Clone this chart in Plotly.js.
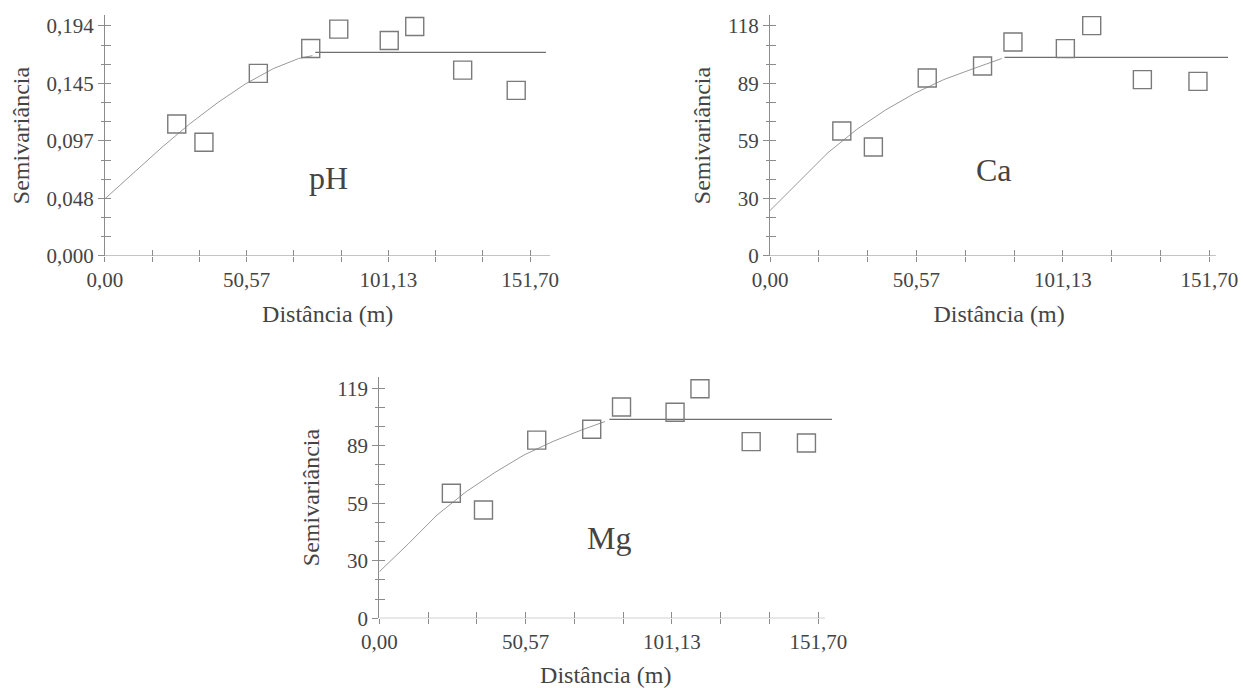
<!DOCTYPE html>
<html>
<head>
<meta charset="utf-8">
<script src="https://cdn.plot.ly/plotly-3.0.1.min.js"></script>
<style>html,body{margin:0;padding:0;background:#fff;}#chart{width:1243px;height:688px;}</style>
</head>
<body>
<div id="chart"></div>
<script>
// ---------------- data ----------------
var xMajorVals = [0, 50.567, 101.133, 151.70];
var xTickLabels = ['0,00', '50,57', '101,13', '151,70'];

// pH
var phLagX = [25.6, 35.3, 54.7, 73.4, 83.4, 101.4, 110.5, 127.6, 146.7];
var phGamma = [0.1113, 0.0959, 0.1540, 0.1750, 0.1914, 0.1818, 0.1936, 0.1568, 0.1397];
var phCurveX = [0, 10, 20, 30, 40, 50, 60, 69, 72, 74];
var phCurveY = [0.0483, 0.0700, 0.0910, 0.1110, 0.1290, 0.1450, 0.1580, 0.1665, 0.1680, 0.1690];
var phSillX = [75, 157.3];
var phSillY = [0.1717, 0.1717];
var phYTickVals = [0, 0.0485, 0.097, 0.1455, 0.194];
var phYTickLabels = ['0,000', '0,048', '0,097', '0,145', '0,194'];

// Ca
var caLagX = [24.8, 35.7, 54.3, 73.4, 83.9, 102.0, 111.1, 128.6, 147.8];
var caGamma = [64.1, 55.9, 91.3, 97.5, 109.8, 106.4, 118.2, 90.5, 89.6];
var caCurveX = [0, 10, 20, 30, 40, 50, 60, 70, 78, 80];
var caCurveY = [23.3, 38.0, 53.0, 65.0, 75.0, 83.5, 90.5, 96.0, 100.2, 101.3];
var caSillX = [81, 158.2];
var caSillY = [101.9, 101.9];
var caYTickVals = [0, 29.5, 59, 88.5, 118];
var caYTickLabels = ['0', '30', '59', '89', '118'];

// Mg
var mgLagX = [24.9, 36.0, 54.4, 73.4, 83.7, 102.2, 110.8, 128.5, 147.6];
var mgGamma = [64.7, 56.0, 92.2, 97.8, 109.3, 106.6, 118.8, 91.4, 90.7];
var mgCurveX = [0, 10, 20, 30, 40, 50, 60, 70, 78];
var mgCurveY = [24.1, 38.5, 53.5, 65.5, 75.5, 84.5, 91.5, 97.5, 101.8];
var mgSillX = [79.5, 156.5];
var mgSillY = [102.9, 102.9];
var mgYTickVals = [0, 29.75, 59.5, 89.25, 119];
var mgYTickLabels = ['0', '30', '59', '89', '119'];

var panelNames = ['pH', 'Ca', 'Mg'];

// ---------------- styling ----------------
var FONT = 'Liberation Serif';
var TXT = '#444444';
var AX = '#8c8c8c';

function allTicks(majors) {
  var v = [];
  for (var i = 0; i < majors.length; i++) {
    v.push(majors[i]);
    if (i < majors.length - 1) {
      var d = (majors[i + 1] - majors[i]) / 3;
      v.push(majors[i] + d, majors[i] + 2 * d);
    }
  }
  return v;
}
function labelsFor(vals, majors, labels) {
  return vals.map(function (v) {
    var k = majors.indexOf(v);
    return k >= 0 ? labels[k] : '';
  });
}

var xAll = allTicks(xMajorVals);
var xText = labelsFor(xAll, xMajorVals, xTickLabels);

var panels = [
  {lagX: phLagX, g: phGamma, cx: phCurveX, cy: phCurveY, sx: phSillX, sy: phSillY,
   yv: phYTickVals, yl: phYTickLabels, xdom: [0.08447, 0.44280], ydom: [0.62791, 0.97820],
   xr: [0, 158.9], yr: [0, 0.20328], axEnd: 158.9, lab: [79.9, 0.0662]},
  {lagX: caLagX, g: caGamma, cx: caCurveX, cy: caCurveY, sx: caSillX, sy: caSillY,
   yv: caYTickVals, yl: caYTickLabels, xdom: [0.61947, 0.98801], ydom: [0.62791, 0.97820],
   xr: [0, 158.2], yr: [0, 123.64], axEnd: 154.0, lab: [77.2, 44.1]},
  {lagX: mgLagX, g: mgGamma, cx: mgCurveX, cy: mgCurveY, sx: mgSillX, sy: mgSillY,
   yv: mgYTickVals, yl: mgYTickLabels, xdom: [0.30515, 0.66951], ydom: [0.10131, 0.45247],
   xr: [0, 156.5], yr: [0, 125.0], axEnd: 154.0, lab: [79.2, 41.4]}
];

var data = [];
var layout = {
  width: 1243, height: 688,
  margin: {l: 0, r: 0, t: 0, b: 0},
  paper_bgcolor: '#ffffff', plot_bgcolor: 'rgba(0,0,0,0)',
  showlegend: false,
  font: {family: FONT, color: TXT},
  shapes: [], annotations: []
};

panels.forEach(function (p, i) {
  var n = i + 1, m = i + 4;
  var xa = 'x' + (n === 1 ? '' : n), ya = 'y' + (n === 1 ? '' : n);
  var xo = 'x' + m, yo = 'y' + m;
  var yAll = allTicks(p.yv);

  data.push({x: p.cx, y: p.cy, xaxis: xa, yaxis: ya, mode: 'lines',
             line: {color: '#9a9a9a', width: 1}, hoverinfo: 'skip'});
  data.push({x: p.sx, y: p.sy, xaxis: xa, yaxis: ya, mode: 'lines',
             line: {color: '#6e6e6e', width: 1.2}, hoverinfo: 'skip'});
  data.push({x: p.lagX, y: p.g, xaxis: xa, yaxis: ya, mode: 'markers', cliponaxis: false,
             marker: {symbol: 'square-open', size: 18, color: '#7a7a7a', line: {width: 1.4, color: '#7a7a7a'}}});
  data.push({x: [null], y: [null], xaxis: xo, yaxis: yo, mode: 'markers', hoverinfo: 'skip'});

  var xName = 'xaxis' + (n === 1 ? '' : n), yName = 'yaxis' + (n === 1 ? '' : n);
  layout[xName] = {
    domain: p.xdom, range: p.xr, anchor: ya, showgrid: false, zeroline: false, showline: false,
    tickmode: 'array', tickvals: xAll, ticktext: xText, ticks: 'outside', ticklen: 5, tickwidth: 1, tickcolor: AX,
    tickfont: {family: FONT, size: 21, color: TXT},
    title: {text: 'Distância (m)', font: {family: FONT, size: 24, color: TXT}, standoff: 14},
    fixedrange: true
  };
  layout[yName] = {
    domain: p.ydom, range: p.yr, anchor: xa, showgrid: false, zeroline: false,
    showline: true, linecolor: AX, linewidth: 1,
    tickmode: 'array', tickvals: p.yv, ticktext: p.yl, ticks: 'outside', ticklen: 6, tickwidth: 1, tickcolor: AX,
    minor: {tickmode: 'linear', tick0: 0, dtick: (p.yv[1] - p.yv[0]) / 3, ticks: 'outside', ticklen: 3, tickcolor: AX, tickwidth: 1},
    tickfont: {family: FONT, size: 21, color: TXT},
    title: {text: 'Semivariância', font: {family: FONT, size: 24, color: TXT}, standoff: 10},
    fixedrange: true
  };
  layout['xaxis' + m] = {
    overlaying: xa, range: p.xr, anchor: yo, showgrid: false, zeroline: false, showline: false,
    tickmode: 'array', tickvals: xAll, ticktext: xAll.map(function () { return ''; }),
    ticks: 'inside', ticklen: 6, tickwidth: 1, tickcolor: AX, showticklabels: false, fixedrange: true
  };
  layout['yaxis' + m] = {
    overlaying: ya, range: p.yr, anchor: xo, showgrid: false, zeroline: false, showline: false,
    tickmode: 'array', tickvals: yAll, ticktext: yAll.map(function () { return ''; }),
    ticks: 'inside', ticklen: 6, tickwidth: 1, tickcolor: AX, showticklabels: false, fixedrange: true
  };
  layout.shapes.push({type: 'line', xref: xa, yref: ya, x0: 0, x1: p.axEnd, y0: 0, y1: 0,
                      line: {color: AX, width: 1}, layer: 'above'});
  layout.annotations.push({xref: xa, yref: ya, x: p.lab[0], y: p.lab[1], text: panelNames[i],
                           showarrow: false, font: {family: FONT, size: 32, color: TXT}});
});

Plotly.newPlot('chart', data, layout, {staticPlot: true});
</script>
</body>
</html>
